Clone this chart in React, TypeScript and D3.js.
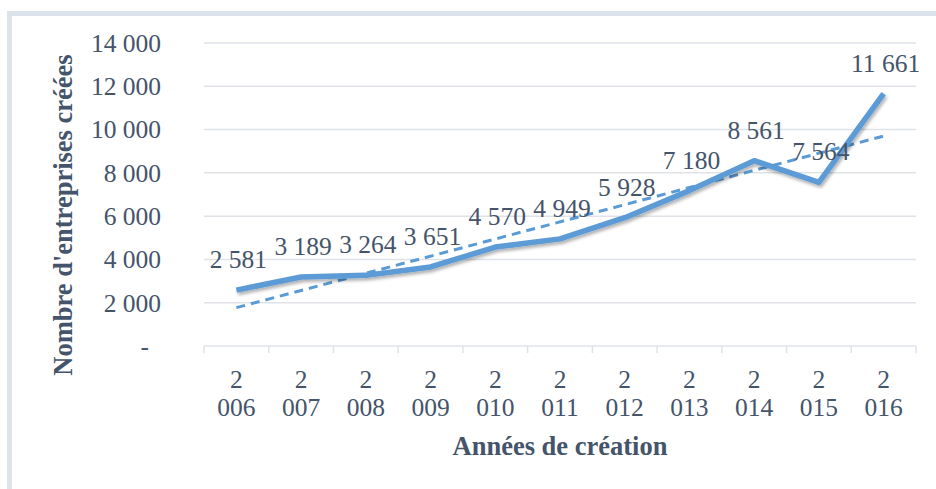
import React from 'react';
import * as d3 from 'd3';

// years and created companies
const years = ['2006', '2007', '2008', '2009', '2010', '2011', '2012', '2013', '2014', '2015', '2016'];
const counts = [2581, 3189, 3264, 3651, 4570, 4949, 5928, 7180, 8561, 7564, 11661];
const yTicks = [0, 2000, 4000, 6000, 8000, 10000, 12000, 14000];

const TEXT = '#44546a';
const GRID = '#dfe3e8';
const BLUE = '#5b9bd5';
const FONT = '"Liberation Serif", "Times New Roman", serif';

// french thousands separator
const fmt = (v: number) => (v === 0 ? '-' : d3.format(',')(v).replace(/,/g, ' '));

export default function App() {
  const W = 936;
  const H = 489;
  const margin = { top: 43, right: 20, bottom: 143, left: 204 };

  const x = d3.scaleBand<string>().domain(years).range([margin.left, 916]);
  const y = d3.scaleLinear().domain([0, 14000]).range([H - margin.bottom, margin.top]);

  const pts: [number, number][] = counts.map((v, i) => [x(years[i])! + x.bandwidth() / 2, y(v)]);
  const line = d3.line<[number, number]>();

  // linear trend (least squares) computed from the data
  const idx = counts.map((_, i) => i);
  const mx = d3.mean(idx)!;
  const my = d3.mean(counts)!;
  const slope = d3.sum(idx, (i) => (i - mx) * (counts[i] - my)) / d3.sum(idx, (i) => (i - mx) ** 2);
  const trend: [number, number][] = [0, years.length - 1].map((i) => [
    x(years[i])! + x.bandwidth() / 2,
    y(my + slope * (i - mx)),
  ]);

  const axisY = y(0);

  return (
    <div style={{ position: 'absolute', left: 0, top: 0 }}>
      <svg width={W} height={H} style={{ display: 'block', background: '#fff' }}>
        <defs>
          <filter id="shadow" x="-10%" y="-10%" width="120%" height="130%">
            <feDropShadow dx="1.5" dy="2.5" stdDeviation="1.8" floodColor="#000" floodOpacity="0.3" />
          </filter>
        </defs>
        <rect x={9.5} y={13.5} width={960} height={520} fill="none" stroke="#dde3ea" strokeWidth={5} />

        {/* gridlines */}
        {yTicks.filter((t) => t > 0).map((t) => (
          <line key={t} x1={margin.left} x2={916} y1={y(t)} y2={y(t)} stroke={GRID} strokeWidth={1.5} />
        ))}

        {/* y tick labels */}
        <g fontFamily={FONT} fontSize={25.5} fill={TEXT}>
          {yTicks.map((t) => (
            <text key={t} x={t === 0 ? 149 : 161} y={y(t)} dy="0.35em" textAnchor="end">
              {fmt(t)}
            </text>
          ))}
        </g>

        {/* x axis */}
        <line x1={margin.left} x2={916} y1={axisY} y2={axisY} stroke={GRID} strokeWidth={1.5} />
        {d3.range(years.length + 1).map((i) => {
          const xx = i < years.length ? x(years[i])! : 916;
          return <line key={i} x1={xx} x2={xx} y1={axisY} y2={axisY + 7} stroke={GRID} strokeWidth={1.5} />;
        })}
        <g fontFamily={FONT} fontSize={25.5} fill={TEXT} textAnchor="middle">
          {years.map((yr) => {
            const cx = x(yr)! + x.bandwidth() / 2;
            return (
              <text key={yr} x={cx}>
                <tspan x={cx} y={388}>{yr.slice(0, 1)}</tspan>
                <tspan x={cx} y={416}>{yr.slice(1)}</tspan>
              </text>
            );
          })}
        </g>

        {/* trend */}
        <path d={line(trend)!} fill="none" stroke={BLUE} strokeWidth={3} strokeDasharray="9 6" />

        {/* series */}
        <path
          d={line(pts)!}
          fill="none"
          stroke={BLUE}
          strokeWidth={5.5}
          strokeLinejoin="round"
          filter="url(#shadow)"
        />

        {/* data labels */}
        <g fontFamily={FONT} fontSize={25.5} fill={TEXT} textAnchor="middle">
          {counts.map((v, i) => (
            <text key={i} x={pts[i][0] + 2} y={pts[i][1] - 22}>
              {fmt(v)}
            </text>
          ))}
        </g>

        {/* titles */}
        <text
          x={560}
          y={455}
          textAnchor="middle"
          fontFamily={FONT}
          fontWeight="bold"
          fontSize={26.5}
          fill={TEXT}
        >
          Années de création
        </text>
        <text
          transform={`translate(72,${215}) rotate(-90)`}
          textAnchor="middle"
          fontFamily={FONT}
          fontWeight="bold"
          fontSize={26.5}
          fill={TEXT}
        >
          Nombre d'entreprises créées
        </text>
      </svg>
    </div>
  );
}
